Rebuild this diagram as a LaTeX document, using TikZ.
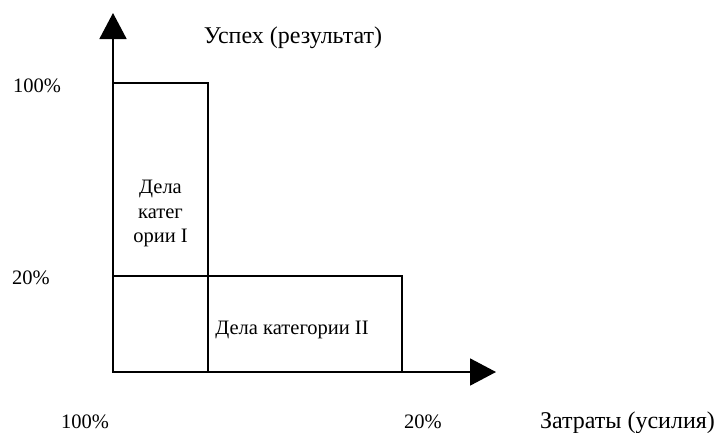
\documentclass[tikz,border=0pt]{standalone}
\usepackage{fontspec}
\setmainfont{Liberation Serif}
\usetikzlibrary{arrows.meta}
\begin{document}
\begin{tikzpicture}[x=1pt,y=-1pt,
  axis/.style={line width=1.8pt,-{Triangle[width=27pt,length=26pt]}},
  box/.style={line width=1.8pt},
  lbl/.style={inner sep=0pt,font=\fontsize{20.5}{25}\selectfont,anchor=base},
  axlbl/.style={inner sep=0pt,font=\fontsize{24}{28}\selectfont,anchor=base}]
\useasboundingbox (0,0) rectangle (717,432);
\coordinate (O) at (113,372);
\coordinate (ytip) at (113,13);
\coordinate (xtip) at (496,372);
% category boxes
\draw[box] (O) rectangle (402,276);
\draw[box] (O) rectangle (208,83);
% axes
\draw[axis] (O) -- (ytip);
\draw[axis] (O) -- (xtip);
% labels
\node[axlbl] (ylab) at (293,43) {Успех (результат)};
\node[lbl] (y100) at (37,92) {100\%};
\node[lbl] (y20) at (31,284) {20\%};
\node[lbl] (x100) at (85,428) {100\%};
\node[lbl] (x20) at (423,428) {20\%};
\node[axlbl] (xlab) at (627.5,428) {Затраты (усилия)};
\node[lbl] (cat2) at (292,334) {Дела категории II};
\node[lbl] (c1a) at (160.5,193) {Дела};
\node[lbl] (c1b) at (160.5,218) {катег};
\node[lbl] (c1c) at (160.5,242) {ории I};
\end{tikzpicture}
\end{document}
